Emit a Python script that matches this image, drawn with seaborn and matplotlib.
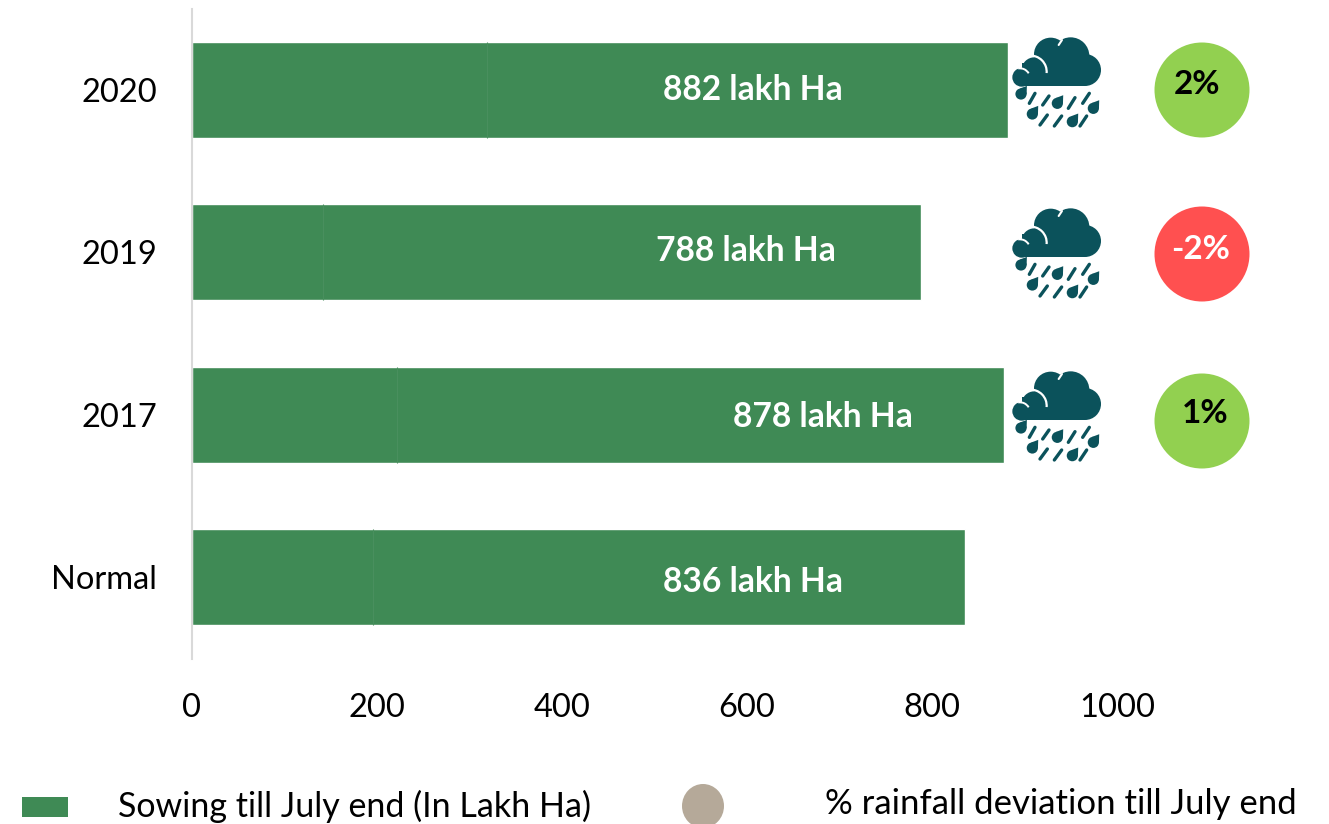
import matplotlib
matplotlib.use("Agg")
import matplotlib.pyplot as plt
import seaborn as sns
import pandas as pd
from matplotlib.patches import Circle, Rectangle, Arc, Ellipse, Polygon

categories = ["2020", "2019", "2017", "Normal"]
sowing = [882, 788, 878, 836]
seams = [319, 142, 222, 196]
bar_labels = ["882 lakh Ha", "788 lakh Ha", "878 lakh Ha", "836 lakh Ha"]
deviation_labels = ["2%", "-2%", "1%"]
deviation_colors = ["#92D050", "#FF5050", "#92D050"]
x_ticks = [0, 200, 400, 600, 800, 1000]
legend_bar = "Sowing till July end (In Lakh Ha)"
legend_dot = "% rainfall deviation till July end"

W, H = 1329, 824
sns.set_theme(style="white")
plt.rcParams["font.family"] = ["Lato", "DejaVu Sans"]
GREEN = "#3F8A55"
ICON = "#0B525B"

fig = plt.figure(figsize=(W / 100, H / 100), dpi=100, facecolor="white")
ax = fig.add_axes([192 / W, 1 - 658.5 / H, (W - 192) / W, 650 / H])
df = pd.DataFrame({"year": categories, "sowing": sowing})
sns.barplot(data=df, y="year", x="sowing", color=GREEN, saturation=1, width=0.59, ax=ax)
ax.set_xlim(0, (W - 192) / 0.9252)
ax.set_ylim(3.5, -0.5)
ax.set_xlabel("")
ax.set_ylabel("")
ax.set_xticks(x_ticks)
ax.tick_params(axis="x", length=0, pad=25, labelsize=23.5, labelcolor="black")
ax.tick_params(axis="y", length=0, pad=25, labelsize=23.5, labelcolor="black")
for s in ["top", "right", "bottom"]:
    ax.spines[s].set_visible(False)
ax.spines["left"].set_color("#D9D9D9")
ax.spines["left"].set_linewidth(1.5)

# faint seams between stacked pieces
for i, v in enumerate(seams):
    ax.vlines(v, i - 0.295, i + 0.295, color="#498F5E", lw=0.8)

# overlay in pixel coordinates for labels, badges and icons
ov = fig.add_axes([0, 0, 1, 1], facecolor="none")
ov.set_xlim(0, W)
ov.set_ylim(H, 0)
ov.axis("off")

for (px, py), t in zip([(753, 90), (746, 251), (823, 417), (753, 582)], bar_labels):
    ov.text(px, py, t, color="white", fontsize=24.2, fontweight="bold", ha="center", va="center")

for cy, ty, tx, t, c in zip([90, 254, 421], [84, 249, 413], [1197, 1201, 1205],
                            deviation_labels, deviation_colors):
    ov.add_patch(Circle((1202, cy), 47.5, fc=c, ec="none"))
    ov.text(tx, ty, t, fontsize=24, fontweight="bold", ha="center", va="center",
            color="white" if t.startswith("-") else "black")


def drop(x, y, r=5.6):
    ov.add_patch(Circle((x, y), r, fc=ICON, ec="none"))
    ov.add_patch(Polygon([(x + 1.05 * r, y - 1.45 * r), (x + r, y + 0.1 * r), (x - 0.2 * r, y - 0.98 * r)],
                         closed=True, fc=ICON, ec="none"))


def icon(oy):
    def P(zx, zy):
        return 1000 + zx / 3, oy + 20 + zy / 3
    for zx, zy, zr in [(152, 103, 50), (212, 108, 56), (255, 150, 48), (103, 150, 38), (65, 172, 28)]:
        x, y = P(zx, zy)
        ov.add_patch(Circle((x, y), zr / 3, fc=ICON, ec="none"))
    x0, y0 = P(65, 130)
    x1, y1 = P(255, 199)
    ov.add_patch(Rectangle((x0, y0), x1 - x0, y1 - y0, fc=ICON, ec="none"))
    cx, cy = P(92, 155)
    ov.add_patch(Arc((cx, cy), 32, 32, theta1=265, theta2=365, color="white", lw=1.6))
    cx, cy = P(60, 175)
    ov.add_patch(Arc((cx, cy), 20, 20, theta1=260, theta2=330, color="white", lw=1.4))
    ov.plot(*zip(P(176, 75), P(186, 60)), color="white", lw=1.5, solid_capstyle="round")
    for zx, zy in [(63, 222), (172, 250), (97, 282), (280, 265), (217, 305)]:
        drop(*P(zx, zy))
    for a, b in [((88, 250), (105, 220)), ((128, 255), (147, 228)), ((205, 265), (225, 233)),
                 ((248, 250), (268, 220)), ((120, 315), (142, 285)), ((163, 318), (185, 288)),
                 ((240, 318), (260, 288))]:
        ov.plot(*zip(P(*a), P(*b)), color=ICON, lw=2.4, solid_capstyle="round")


for oy in [0, 171, 334]:
    icon(oy)

# legend
ov.add_patch(Rectangle((22, 797), 46, 20, fc=GREEN, ec="none"))
ov.text(118, 806, legend_bar, fontsize=24.5, ha="left", va="center", color="black")
ov.add_patch(Ellipse((703, 806), 42, 44, fc="#B5A999", ec="none", clip_on=True))
ov.text(825, 804, legend_dot, fontsize=25, ha="left", va="center", color="black")

fig.savefig("out.png", dpi=100, facecolor="white")
